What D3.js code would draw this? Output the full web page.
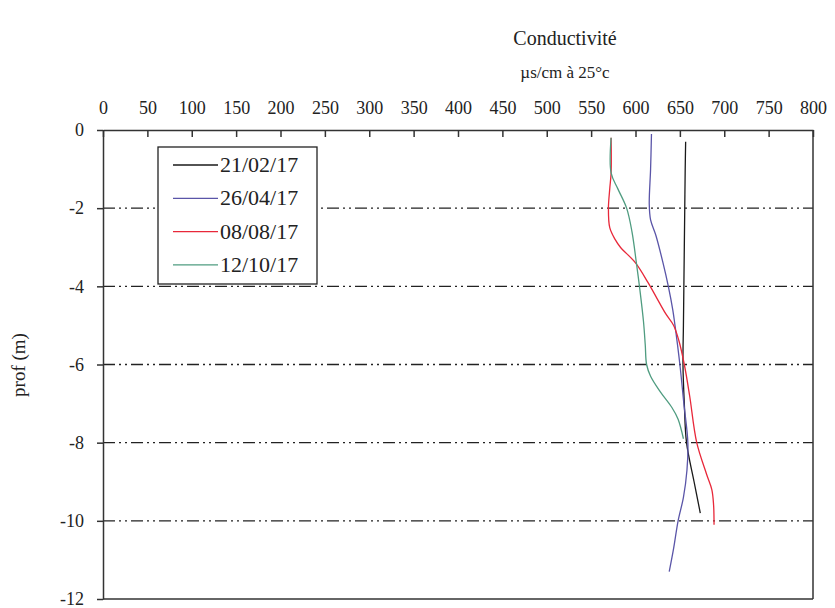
<!DOCTYPE html>
<html>
<head>
<meta charset="utf-8">
<script src="https://cdn.jsdelivr.net/npm/d3@7"></script>
<style>
  body { margin: 0; background: #fff; }
  text { font-family: "Liberation Serif", "Times New Roman", serif; fill: #222; }
</style>
</head>
<body>
<div id="chart"></div>
<script>
// series labels and colours
var dates = ["21/02/17", "26/04/17", "08/08/17", "12/10/17"];
var colors = ["#1a1a1a", "#5a55a8", "#e8283a", "#4f9c80"];

// depth (m, positive down) and conductivity
var depth1 = [0.3, 1, 2, 3, 4, 5, 6, 7, 8, 9, 9.8];
var cond1  = [656.5, 656, 655.5, 655, 654.5, 654, 653.5, 655, 657.5, 666, 673];

var depth2 = [0.1, 1, 1.9, 2.3, 2.7, 3.4, 4, 4.6, 5, 6, 7, 8, 8.7, 9.4, 10, 10.7, 11.3];
var cond2  = [618, 617, 615.5, 617, 623, 631, 637, 642, 644.5, 650, 654.5, 659, 658, 654, 648, 643, 638];

var depth3 = [0.2, 1.1, 1.5, 2.0, 2.5, 2.8, 3.0, 3.4, 3.9, 4.3, 4.7, 5.0, 5.4, 6.0, 6.8, 8.0, 8.8, 9.2, 9.6, 10.1];
var cond3  = [572.5, 572.5, 571, 569.5, 571, 577, 583, 600, 614, 624, 634, 643, 649, 655, 661, 669, 680, 686, 688, 688.5];

var depth4 = [0.2, 1.1, 1.5, 2.0, 2.6, 3.4, 4.1, 4.9, 5.5, 6.0, 6.3, 6.7, 7.1, 7.4, 7.9];
var cond4  = [572.5, 572.5, 580, 590, 596, 601, 605, 609, 611, 612.5, 617, 628, 641, 648, 654];

var xTicks = d3.range(0, 801, 50);
var yTicks = [0, -2, -4, -6, -8, -10, -12];
var gridLevels = [-2, -4, -6, -8, -10];

var series = [
  { name: dates[0], color: colors[0], depth: depth1, cond: cond1 },
  { name: dates[1], color: colors[1], depth: depth2, cond: cond2 },
  { name: dates[2], color: colors[2], depth: depth3, cond: cond3 },
  { name: dates[3], color: colors[3], depth: depth4, cond: cond4 }
];

var W = 835, H = 608;
var plotL = 103, plotR = 813, plotT = 130, plotB = 599;

var svg = d3.select("#chart").append("svg")
  .attr("width", W)
  .attr("height", H)
  .attr("viewBox", [0, 0, W, H]);

var x = d3.scaleLinear().domain([0, 800]).range([plotL, plotR]);
var y = d3.scaleLinear().domain([0, -12]).range([plotT, plotB]);

// dash-dot-dot grid lines
svg.append("g")
  .selectAll("line")
  .data(gridLevels)
  .join("line")
    .attr("x1", plotL)
    .attr("x2", plotR)
    .attr("y1", d => y(d))
    .attr("y2", d => y(d))
    .attr("stroke", "#222")
    .attr("stroke-width", 1.3)
    .attr("stroke-dasharray", "12,4,2,4,2,4");

// frame right + bottom
svg.append("line")
  .attr("x1", plotR).attr("x2", plotR).attr("y1", plotT).attr("y2", plotB)
  .attr("stroke", "#333").attr("stroke-width", 1.5);
svg.append("line")
  .attr("x1", plotL).attr("x2", plotR).attr("y1", plotB).attr("y2", plotB)
  .attr("stroke", "#333").attr("stroke-width", 1.5);

// top axis, ticks pointing into the plot
var xAxis = svg.append("g")
  .attr("transform", "translate(0," + plotT + ")")
  .call(d3.axisTop(x).tickValues(xTicks).tickSize(-7).tickSizeOuter(0).tickPadding(16).tickFormat(d => String(d)));

// left axis
var yAxis = svg.append("g")
  .attr("transform", "translate(" + plotL + ",0)")
  .call(d3.axisLeft(y).tickValues(yTicks).tickSize(6).tickSizeOuter(0).tickPadding(13).tickFormat(d => String(d)));

[xAxis, yAxis].forEach(function(a) {
  a.select(".domain").attr("stroke", "#333").attr("stroke-width", 1.5);
  a.selectAll(".tick line").attr("stroke", "#333").attr("stroke-width", 1.5);
  a.selectAll(".tick text")
    .attr("fill", "#222")
    .style("font-family", "'Liberation Serif', serif")
    .style("font-size", "18px");
});

// curves
var line = d3.line()
  .x(d => x(d[1]))
  .y(d => y(-d[0]))
  .curve(d3.curveCatmullRom.alpha(0.5));

svg.append("g")
  .selectAll("path")
  .data(series)
  .join("path")
    .attr("d", s => line(d3.zip(s.depth, s.cond)))
    .attr("fill", "none")
    .attr("stroke", s => s.color)
    .attr("stroke-width", 1.3);

// titles
svg.append("text")
  .attr("x", 565).attr("y", 45)
  .attr("text-anchor", "middle")
  .style("font-size", "20px")
  .text("Conductivité");

svg.append("text")
  .attr("x", 565).attr("y", 78)
  .attr("text-anchor", "middle")
  .style("font-size", "17px")
  .text("µs/cm à 25°c");

svg.append("text")
  .attr("transform", "translate(25,365) rotate(-90)")
  .attr("text-anchor", "middle")
  .style("font-size", "19px")
  .text("prof (m)");

// legend
var legend = svg.append("g");
legend.append("rect")
  .attr("x", 158).attr("y", 147)
  .attr("width", 159).attr("height", 137)
  .attr("fill", "#fff")
  .attr("stroke", "#222")
  .attr("stroke-width", 1.3);

var rows = legend.selectAll(".row")
  .data(series)
  .join("g")
    .attr("class", "row")
    .attr("transform", (d, i) => "translate(0," + (165 + i * 33.3) + ")");

rows.append("line")
  .attr("x1", 173).attr("x2", 218)
  .attr("stroke", d => d.color)
  .attr("stroke-width", 1.3);

rows.append("text")
  .attr("x", 220).attr("y", 7)
  .style("font-size", "22px")
  .text(d => d.name);
</script>
</body>
</html>
